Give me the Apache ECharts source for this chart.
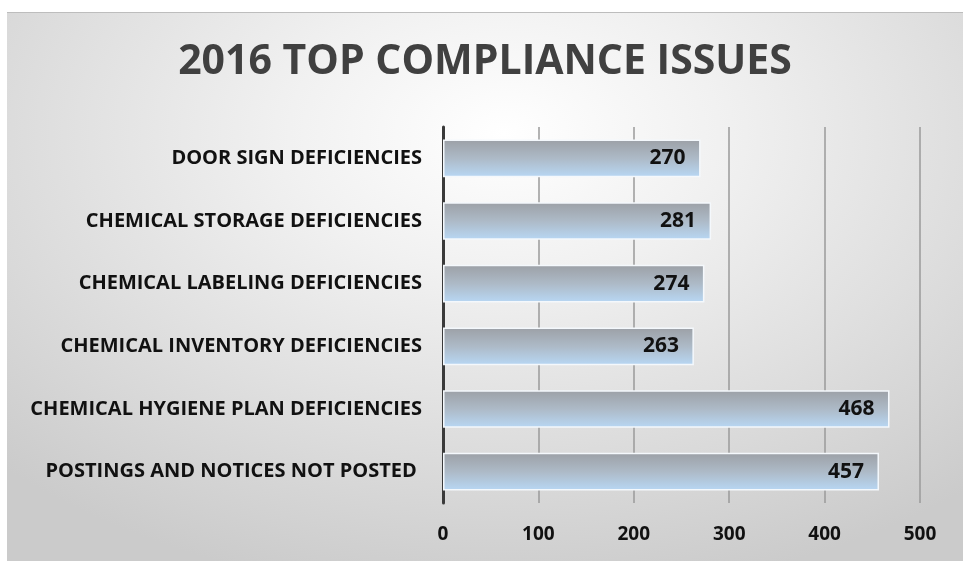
<!DOCTYPE html>
<html>
<head>
<meta charset="utf-8">
<script src="https://cdn.jsdelivr.net/npm/echarts@6/dist/echarts.min.js"></script>
<style>
  html, body { margin: 0; padding: 0; background: #fff; }
  #chart {
    position: absolute; left: 7px; top: 12px; width: 956px; height: 549px;
    border-top: 1px solid #bdbdbd;
    background: radial-gradient(ellipse 75% 85% at 52% 22%, #ffffff 0%, #f1f1f1 30%, #dedede 65%, #cbcbcb 100%);
  }
</style>
</head>
<body>
<div id="chart"></div>
<script>
var titleText = '2016 TOP COMPLIANCE ISSUES';
var categories = [
  'DOOR SIGN DEFICIENCIES',
  'CHEMICAL STORAGE DEFICIENCIES',
  'CHEMICAL LABELING DEFICIENCIES',
  'CHEMICAL INVENTORY DEFICIENCIES',
  'CHEMICAL HYGIENE PLAN DEFICIENCIES',
  'POSTINGS AND NOTICES NOT POSTED '
];
var values = [270, 281, 274, 263, 468, 457];
var axisMin = 0, axisMax = 500, axisStep = 100;

var font = '"Open Sans", sans-serif';

var myChart = echarts.init(document.getElementById('chart'));
var option = {
  backgroundColor: 'transparent',
  title: {
    text: titleText,
    left: 'center',
    top: 24,
    textStyle: { fontFamily: font, fontWeight: 'bold', fontSize: 41, color: '#404040' }
  },
  grid: { left: 436, right: 43, top: 114, bottom: 59, containLabel: false },
  xAxis: {
    type: 'value',
    min: axisMin, max: axisMax, interval: axisStep,
    axisLine: { show: false },
    axisTick: { show: false },
    axisLabel: { margin: 22, fontFamily: font, fontWeight: 'bold', fontSize: 19, color: '#111' },
    splitLine: { lineStyle: { color: '#9a9a9a', width: 1.5 } }
  },
  yAxis: {
    type: 'category',
    inverse: true,
    data: categories,
    axisLine: { lineStyle: { color: '#3a3a3a', width: 3 } },
    axisTick: { show: false },
    axisLabel: { margin: 21, fontFamily: font, fontWeight: 'bold', fontSize: 20, color: '#111' }
  },
  series: [{
    type: 'bar',
    data: values,
    barCategoryGap: '40%',
    itemStyle: {
      borderColor: '#f4f8fc',
      borderWidth: 1.5,
      color: new echarts.graphic.LinearGradient(0, 0, 0, 1, [
        { offset: 0, color: '#9ca0a6' },
        { offset: 0.5, color: '#adbac7' },
        { offset: 1, color: '#b8d7f4' }
      ])
    },
    label: {
      show: true,
      position: 'insideRight',
      distance: 15,
      fontFamily: font, fontWeight: 'bold', fontSize: 21, color: '#111'
    }
  }]
};
if (option && typeof option === 'object') {
  myChart.setOption(option, true);
}
</script>
</body>
</html>
